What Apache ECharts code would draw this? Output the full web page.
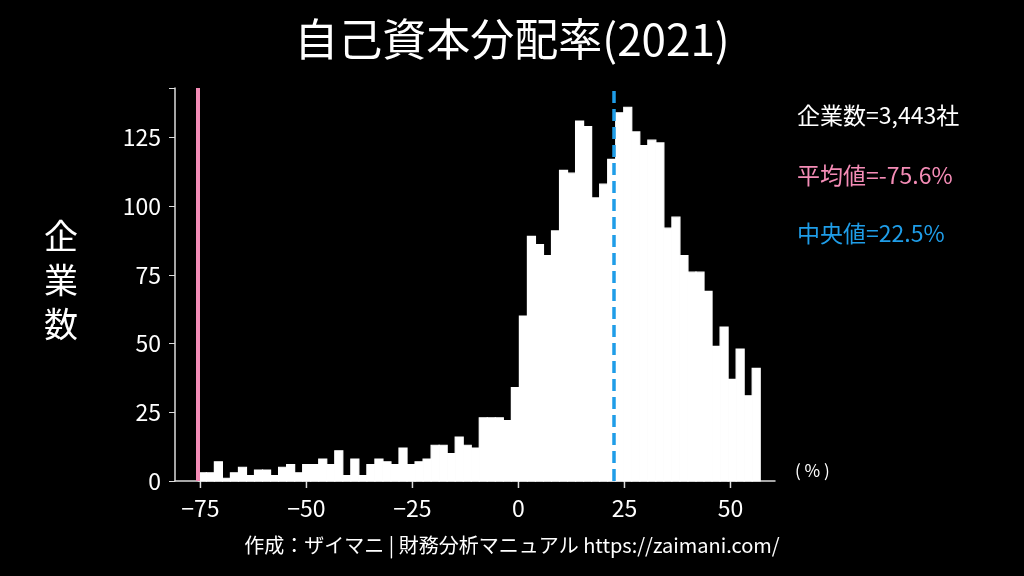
<!DOCTYPE html>
<html>
<head>
<meta charset="utf-8">
<script src="https://cdn.jsdelivr.net/npm/echarts@6/dist/echarts.min.js"></script>
<style>html,body{margin:0;background:#000;}#chart{width:1024px;height:576px;}</style>
</head>
<body>
<div id="chart"></div>
<script>
// 自己資本分配率のヒストグラム
var binStart = -75.5;
var binWidth = 1.893;
var counts = [3, 3, 7, 1, 3, 5, 2, 4, 4, 2, 5, 6, 3, 6, 6, 8, 6, 11, 2, 8,
    2, 6, 8, 7, 6, 12, 6, 7, 8, 13, 13, 10, 16, 13, 12, 23, 23, 23, 22, 34,
    60, 89, 86, 82, 91, 113, 112, 131, 129, 103, 108, 117, 134, 136, 127, 122, 124, 123, 92, 96,
    82, 76, 76, 69, 49, 56, 37, 48, 31, 41];
var yTicks = [0, 25, 50, 75, 100, 125];
var xTicks = [-75, -50, -25, 0, 25, 50];
var meanVal = -75.6;
var medianVal = 22.5;
var totalText = '企業数=3,443社';

var font = '"Noto Sans CJK JP", "Noto Sans", sans-serif';
var pink = '#f48cb6';
var blue = '#1f9de8';

var bins = counts.map(function (c, i) {
    return [binStart + i * binWidth, binStart + (i + 1) * binWidth, c];
});

var chart = echarts.init(document.getElementById('chart'));
var option = {
    backgroundColor: '#000000',
    animation: false,
    title: {
        text: '自己資本分配率(2021)',
        left: 'center',
        top: 12,
        textStyle: {color: '#ffffff', fontSize: 44, fontWeight: 'normal', fontFamily: font}
    },
    grid: {left: 175, right: 249, top: 88, bottom: 95},
    xAxis: {
        type: 'value',
        min: -81,
        max: 60.5,
        interval: 25,
        splitLine: {show: false},
        axisLine: {lineStyle: {color: '#dddddd', width: 1.5}},
        axisTick: {show: false},
        axisLabel: {show: false}
    },
    yAxis: {
        type: 'value',
        min: 0,
        max: 143,
        interval: 25,
        splitLine: {show: false},
        axisLine: {show: true, onZero: false, lineStyle: {color: '#dddddd', width: 1.5}},
        axisTick: {show: true, length: 6, lineStyle: {color: '#dddddd'}},
        axisLabel: {
            color: '#ffffff', fontSize: 23, fontFamily: font, margin: 14,
            formatter: function (v) { return yTicks.indexOf(v) >= 0 ? String(v) : ''; }
        }
    },
    series: [{
        type: 'custom',
        data: bins,
        encode: {x: [0, 1], y: 2},
        renderItem: function (params, api) {
            var p0 = api.coord([api.value(0), api.value(2)]);
            var p1 = api.coord([api.value(1), 0]);
            return {
                type: 'rect',
                shape: {x: p0[0], y: p0[1], width: p1[0] - p0[0], height: p1[1] - p0[1]},
                style: {fill: '#ffffff', stroke: '#ffffff', lineWidth: 1.2}
            };
        },
        markLine: {
            silent: true,
            symbol: ['none', 'none'],
            label: {show: false},
            data: [
                {xAxis: meanVal, lineStyle: {color: pink, width: 4, type: 'solid'}},
                {xAxis: medianVal, lineStyle: {color: blue, width: 3.5, type: [12, 6]}}
            ]
        },
        z: 2
    }]
};
chart.setOption(option);

// テキストとx軸の目盛り
var g = [
    {type: 'text', left: 44, top: 214, style: {text: '企\n業\n数', fill: '#fff', fontSize: 34, lineHeight: 44, fontFamily: font}},
    {type: 'text', left: 797, top: 104, style: {text: totalText, fill: '#fff', fontSize: 23, fontFamily: font}},
    {type: 'text', left: 797, top: 164, style: {text: '平均値=' + meanVal + '%', fill: pink, fontSize: 23, fontFamily: font}},
    {type: 'text', left: 797, top: 222, style: {text: '中央値=' + medianVal + '%', fill: blue, fontSize: 23, fontFamily: font}},
    {type: 'text', left: 795, top: 462, style: {text: '( % )', fill: '#fff', fontSize: 17, fontFamily: font}},
    {type: 'text', left: 'center', top: 535, style: {text: '作成：ザイマニ | 財務分析マニュアル https://zaimani.com/', fill: '#fff', fontSize: 20, fontFamily: font}}
];
xTicks.forEach(function (t) {
    var p = chart.convertToPixel({gridIndex: 0}, [t, 0]);
    g.push({type: 'line', shape: {x1: p[0], y1: p[1], x2: p[0], y2: p[1] + 7}, style: {stroke: '#dddddd', lineWidth: 1.5}});
    g.push({type: 'text', x: p[0], y: p[1] + 16, style: {text: t < 0 ? '\u2212' + (-t) : String(t), fill: '#fff', fontSize: 23, fontFamily: font, align: 'center'}});
});
chart.setOption({graphic: g});
</script>
</body>
</html>
